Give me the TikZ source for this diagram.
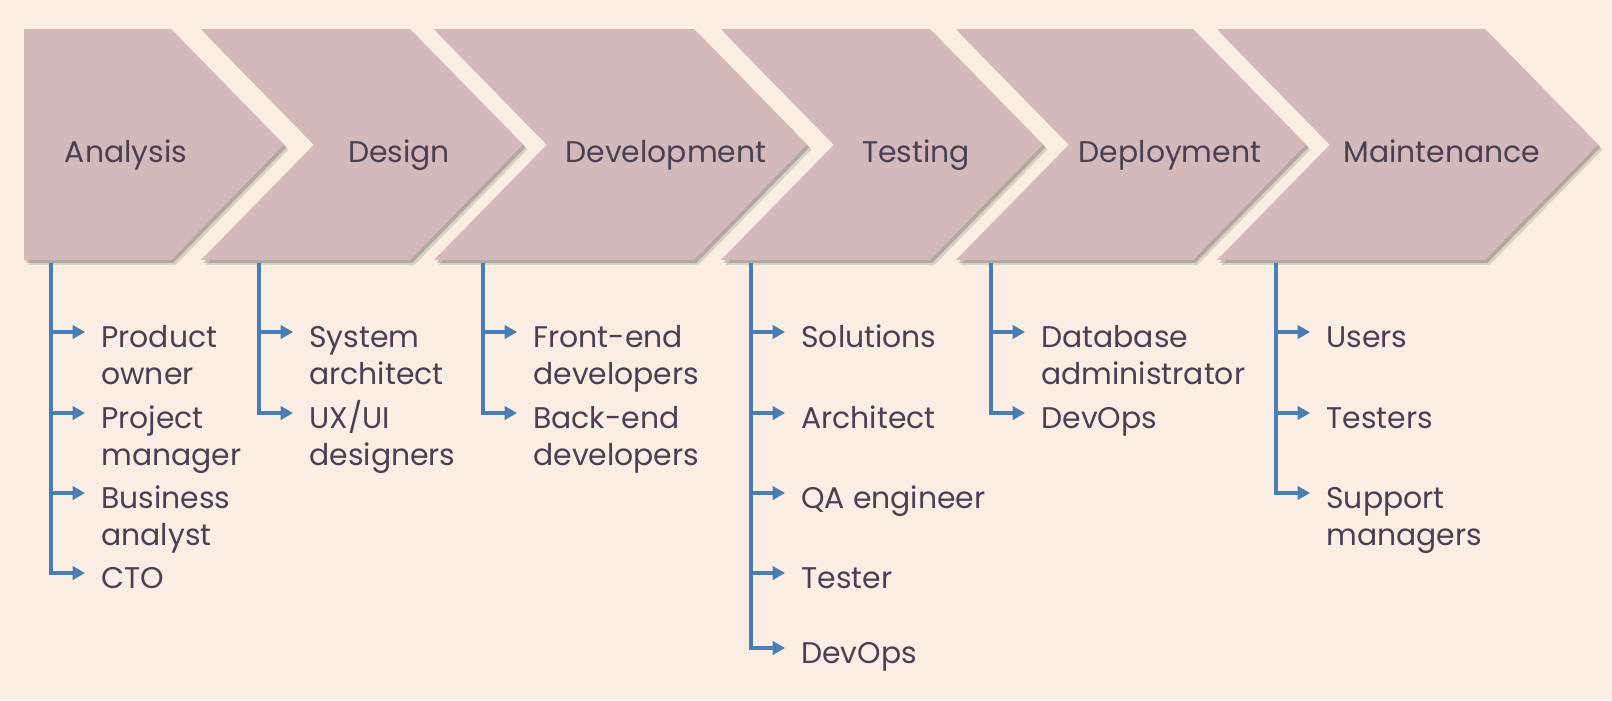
\documentclass[tikz,border=0pt]{standalone}
\usepackage{fontspec}
\setmainfont{Poppins}
\usetikzlibrary{arrows.meta,shadows}
\usetikzlibrary{positioning}
\definecolor{bgpeach}{HTML}{FAEDE3}
\definecolor{chevfill}{HTML}{D4B9BC}
\definecolor{labtext}{HTML}{4A4052}
\definecolor{branchblue}{HTML}{4A7DB5}
\tikzstyle{chev}=[fill=chevfill,
  drop shadow={shadow xshift=2.6pt, shadow yshift=-2.8pt, opacity=.12, fill=black},
  drop shadow={shadow xshift=1.4pt, shadow yshift=-1.6pt, opacity=.25, fill=black!80}]
\tikzstyle{phase}=[text=labtext, font=\fontsize{17}{21.6}\selectfont, anchor=base, inner sep=0]
\tikzstyle{role}=[text=labtext, font=\fontsize{17}{21.6}\selectfont, anchor=base west, inner sep=0]
\tikzstyle{branch}=[draw=branchblue, line width=2pt, -{Triangle[length=7pt,width=7.5pt]}]
\newcommand{\roles}[1]{\begin{tabular}[t]{@{}l@{}}#1\end{tabular}}

\begin{document}
\begin{tikzpicture}[x=0.02cm,y=-0.02cm]
\useasboundingbox (0,0) rectangle (1612,700);
\fill[bgpeach] (0,0) rectangle (1612,700);
% chevrons
\fill[chev] (24,29) -- (171,29) -- (284,144.5) -- (171,260) -- (24,260) -- cycle;
\foreach \a/\b in {201/410, 434/694, 721/930, 956/1193, 1217/1485}
  \fill[chev] (\a,29) -- (\b,29) -- (\b+113,144.5) -- (\b,260) -- (\a,260) -- (\a+113,144.5) -- cycle;
% phases
\node[phase] (an) at (126,162) {Analysis};
\node[phase] (de) at (399,162) {Design};
\node[phase] (dv) at (666,162) {Development};
\node[phase] (te) at (916,162) {Testing};
\node[phase] (dp) at (1170,162) {Deployment};
\node[phase] (ma) at (1442,162) {Maintenance};
\coordinate (anT) at (51,263);
\coordinate (deT) at (259,263);
\coordinate (dvT) at (483,263);
\coordinate (teT) at (751,263);
\coordinate (dpT) at (991,263);
\coordinate (maT) at (1276,263);
% roles
\foreach \r/\y [count=\i] in {{Product\\owner}/347, {Project\\manager}/428, {Business\\analyst}/508, CTO/588}{
  \node[role] (an\i) at (101,\y) {\roles{\r}};
  \draw[branch] (anT) |- ([shift={(-16,-15)}]an\i.base west);
}
\foreach \r/\y [count=\i] in {{System\\architect}/347, {UX/UI\\designers}/428}{
  \node[role] (de\i) at (309,\y) {\roles{\r}};
  \draw[branch] (deT) |- ([shift={(-16,-15)}]de\i.base west);
}
\foreach \r/\y [count=\i] in {{Front-end\\developers}/347, {Back-end\\developers}/428}{
  \node[role] (dv\i) at (533,\y) {\roles{\r}};
  \draw[branch] (dvT) |- ([shift={(-16,-15)}]dv\i.base west);
}
\foreach \r/\y [count=\i] in {Solutions/347, Architect/428, QA engineer/508, Tester/588, DevOps/663}{
  \node[role] (te\i) at (801,\y) {\roles{\r}};
  \draw[branch] (teT) |- ([shift={(-16,-15)}]te\i.base west);
}
\foreach \r/\y [count=\i] in {{Database\\administrator}/347, DevOps/428}{
  \node[role] (dp\i) at (1041,\y) {\roles{\r}};
  \draw[branch] (dpT) |- ([shift={(-16,-15)}]dp\i.base west);
}
\foreach \r/\y [count=\i] in {Users/347, Testers/428, {Support\\managers}/508}{
  \node[role] (ma\i) at (1326,\y) {\roles{\r}};
  \draw[branch] (maT) |- ([shift={(-16,-15)}]ma\i.base west);
}
\end{tikzpicture}
\end{document}
